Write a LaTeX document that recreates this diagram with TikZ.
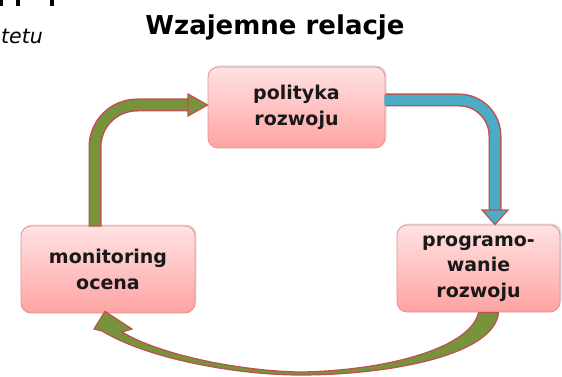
\documentclass[tikz,border=0pt]{standalone}
\usepackage{fontspec}
\setmainfont{DejaVu Sans}
\usetikzlibrary{shadows}
\definecolor{boxtop}{HTML}{FFE2E2}
\definecolor{boxbot}{HTML}{FFA3A3}
\definecolor{boxline}{HTML}{E39191}
\definecolor{arrgreen}{HTML}{77933C}
\definecolor{arrblue}{HTML}{4BACC6}
\definecolor{arredge}{HTML}{C0504D}
\tikzset{
  pbox/.style={rectangle, rounded corners=10pt, draw=boxline, line width=0.8pt,
    top color=boxtop, bottom color=boxbot, align=center,
    font=\fontsize{19}{25.5}\selectfont\bfseries, text=black!90,
    drop shadow={shadow xshift=1.5pt, shadow yshift=1.5pt, fill=black!25, opacity=0.5},
    inner sep=0pt},
  shaftout/.style={draw=arredge, line width=13pt},
  shaftin/.style={line width=10pt},
  headst/.style={draw=arredge, line width=1.2pt, line join=miter}
}
\begin{document}
\begin{tikzpicture}[x=1pt,y=-1pt]
\useasboundingbox (0,0) rectangle (562,377);
% cut-off remnants at top-left
\fill[black] (0,0) rectangle (3,6);
\fill[black] (16,0) rectangle (20,6);
\fill[black] (50,0) rectangle (54,6);
\node[anchor=east, font=\fontsize{20.5}{22}\selectfont\itshape, inner sep=0pt] (sub) at (43,36) {tetu};
\node[font=\fontsize{26}{30}\selectfont\bfseries, inner sep=0pt] (title) at (275,27) {Wzajemne relacje};
% boxes
\node[pbox, minimum width=177pt, minimum height=81pt] (pol) at (296.5,107.5) {polityka\\rozwoju};
\node[pbox, minimum width=174pt, minimum height=87pt] (mon) at (108,269.5) {monitoring\\ocena};
\node[pbox, minimum width=163pt, minimum height=87pt] (prog) at (478.5,268.5) {programo-\\wanie\\rozwoju};
% green elbow arrow: mon -> pol
\coordinate (g0) at ([xshift=-13pt]mon.north);
\coordinate (g1) at (190,105);
\draw[shaftout, rounded corners=42pt] ([yshift=-1pt]g0) |- (g1);
\draw[shaftin, arrgreen, rounded corners=42pt] (g0) |- ([xshift=1pt]g1);
\filldraw[headst, fill=arrgreen] (188,94) -- (pol.west |- 0,105) -- (188,116) -- cycle;
% blue elbow arrow: pol -> prog
\coordinate (b0) at ([yshift=7.5pt]pol.east);
\coordinate (b1) at (495,211);
\draw[shaftout, rounded corners=36pt] (b0) -| (b1);
\draw[shaftin, arrblue, rounded corners=36pt] ([xshift=-1pt]b0) -| ([yshift=1pt]b1);
\filldraw[headst, fill=arrblue] (482,210) -- (prog.north -| 495,0) -- (508,210) -- cycle;
% bottom curved tapering arrow: prog -> mon
\coordinate (c0) at ([xshift=10pt]prog.south);
\coordinate (ctip) at ([xshift=-3pt,yshift=2pt]mon.south);
\filldraw[draw=arredge, line width=1.2pt, fill=arrgreen, line join=miter]
  ([xshift=10pt]c0) .. controls (495,355) and (390,375) .. (300,375)
       .. controls (240,375) and (150,360) .. (102,331)
  -- (94,329) -- (ctip) -- (132,329) -- (122,332)
  .. controls (160,355) and (240,371) .. (300,372)
  .. controls (380,371) and (470,350) .. ([xshift=-10pt]c0) -- cycle;
\end{tikzpicture}
\end{document}
